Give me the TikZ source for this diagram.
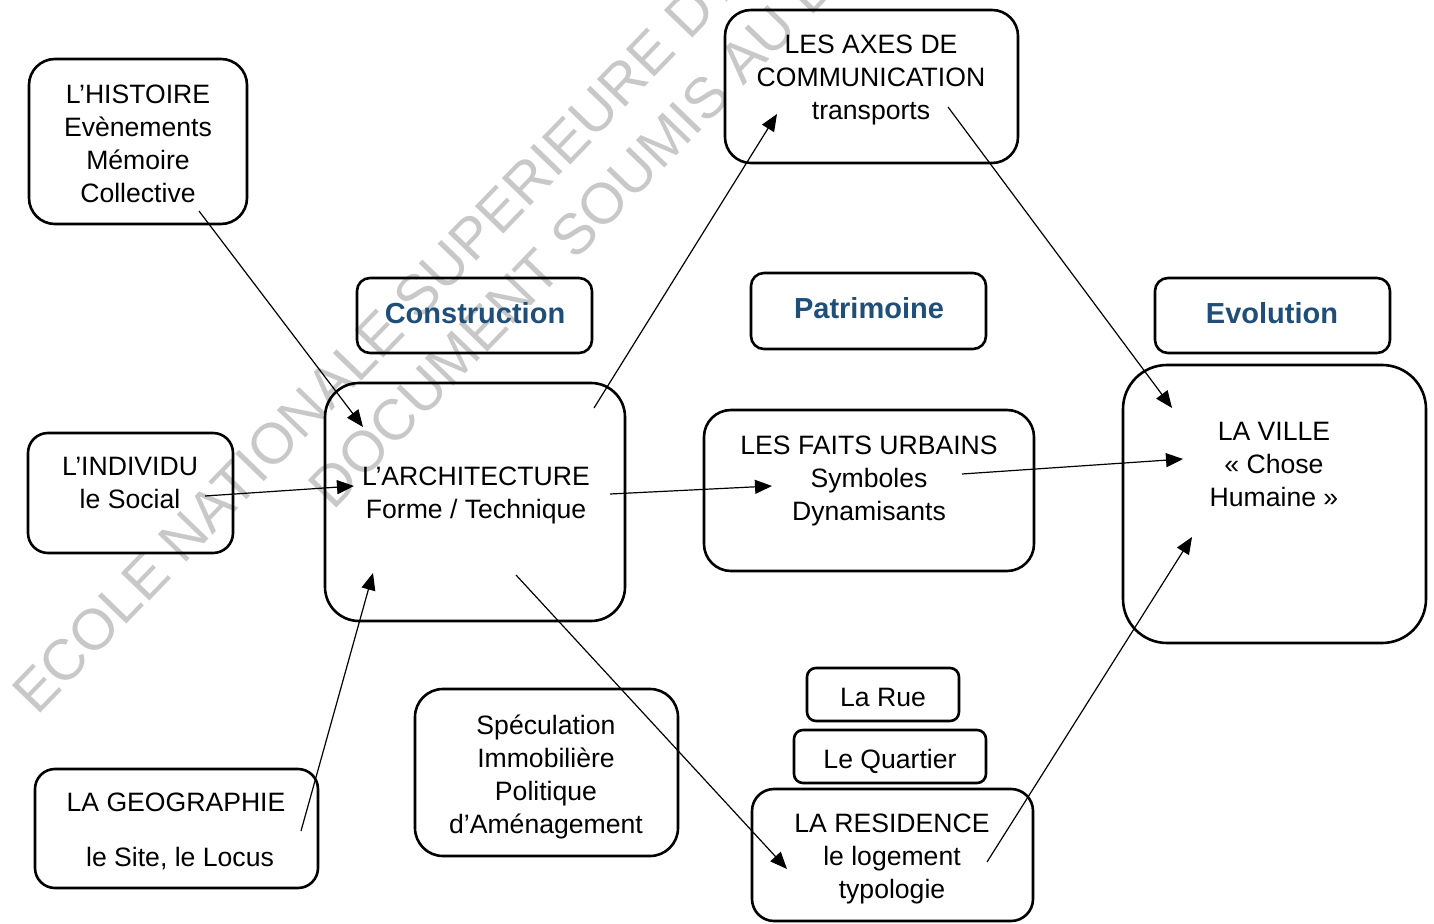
\documentclass[tikz,border=0pt]{standalone}
\usepackage{fontspec}
\setmainfont{Liberation Sans}
\usetikzlibrary{arrows.meta}
\definecolor{wmgray}{RGB}{200,200,200}
\definecolor{labblue}{RGB}{31,78,121}
\begin{document}
\begin{tikzpicture}[x=0.5pt,y=-0.5pt,
  box/.style={draw, line width=1.3pt, inner sep=0pt, outer sep=0pt},
  txt/.style={align=center, inner sep=0pt, font=\fontsize{13.3pt}{16.5pt}\selectfont},
  lab/.style={inner sep=0pt, text=labblue, font=\fontsize{14.5pt}{17pt}\selectfont\bfseries},
  link/.style={line width=0.6pt, -{Triangle[length=8.5pt,width=7pt]}},
  wm/.style={text=wmgray, inner sep=0pt, font=\fontsize{28.75pt}{34pt}\selectfont, rotate=46, anchor=base west}]

\useasboundingbox (0,0) rectangle (1434,924);

% watermark
\begin{scope}
  \clip (0,0) rectangle (1434,924);
  \node[wm] (wm1) at (37,717) {ECOLE NATIONALE SUPERIEURE D’A};
  \node[wm] (wm2) at (333,512) {DOCUMENT SOUMIS AU D};
\end{scope}

% boxes
\node[box, minimum width=109pt,   minimum height=82.5pt, rounded corners=13pt]  (hist)   at (138,141.5) {};
\node[box, minimum width=102.5pt, minimum height=60pt,   rounded corners=10pt]  (indiv)  at (130.5,493) {};
\node[box, minimum width=141.5pt, minimum height=59.5pt, rounded corners=10pt]  (geo)    at (176.5,828.5) {};
\node[box, minimum width=117.5pt, minimum height=37.5pt, rounded corners=6.5pt] (constr) at (474.5,315.5) {};
\node[box, minimum width=117.5pt, minimum height=38pt,   rounded corners=6.5pt] (patr)   at (868.5,311) {};
\node[box, minimum width=117.5pt, minimum height=37.5pt, rounded corners=6.5pt] (evol)   at (1272.5,315.5) {};
\node[box, minimum width=146.5pt, minimum height=76.5pt, rounded corners=13pt]  (axes)   at (871.5,86.5) {};
\node[box, minimum width=150pt,   minimum height=119pt,  rounded corners=17pt]  (arch)   at (475,502) {};
\node[box, minimum width=165pt,   minimum height=80.5pt, rounded corners=13.5pt] (faits) at (869,490.5) {};
\node[box, minimum width=151.5pt, minimum height=139pt,  rounded corners=22pt]  (ville)  at (1274.5,504) {};
\node[box, minimum width=131.5pt, minimum height=83.5pt, rounded corners=14pt]  (spec)   at (546.5,772.5) {};
\node[box, minimum width=76pt,    minimum height=26.5pt, rounded corners=4.5pt] (rue)    at (883,694.5) {};
\node[box, minimum width=96pt,    minimum height=26.5pt, rounded corners=4.5pt] (quart)  at (890,756.5) {};
\node[box, minimum width=140.5pt, minimum height=66pt,   rounded corners=11pt]  (resid)  at (892.5,855) {};

% texts
\node[txt] (histT)  at (138,146.5) {\strut L’HISTOIRE\\Evènements\\Mémoire\\Collective\strut};
\node[txt] (indivT) at (130,485.5) {\strut L’INDIVIDU\\le Social\strut};
\node[txt] (geoT1)  at (176,805) {\strut LA GEOGRAPHIE\strut};
\node[txt] (geoT2)  at (180,860) {\strut le Site, le Locus\strut};
\node[lab] (constrT) at (475,313) {Construction};
\node[lab] (patrT)   at (869,308) {Patrimoine};
\node[lab] (evolT)   at (1272,313) {Evolution};
\node[txt] (axesT)  at (871,80) {\strut LES AXES DE\\COMMUNICATION\\transports\strut};
\node[txt] (archT)  at (476,495.5) {\strut L’ARCHITECTURE\\Forme / Technique\strut};
\node[txt] (faitsT) at (869,481) {\strut LES FAITS URBAINS\\Symboles\\Dynamisants\strut};
\node[txt] (villeT) at (1274,467) {\strut LA VILLE\\« Chose\\Humaine »\strut};
\node[txt] (specT)  at (546,777) {\strut Spéculation\\Immobilière\\Politique\\d’Aménagement\strut};
\node[txt] (rueT)   at (883,700) {\strut La Rue\strut};
\node[txt] (quartT) at (890,762) {\strut Le Quartier\strut};
\node[txt] (residT) at (892,859) {\strut LA RESIDENCE\\le logement\\typologie\strut};

% connector ends
\coordinate (histOut)  at (199,211);
\coordinate (archInA)  at (363,427);
\coordinate (indivOut) at (205,496);
\coordinate (archInB)  at (354,486);
\coordinate (geoOut)   at (301,831);
\coordinate (archInC)  at (373,573);
\coordinate (archOutA) at (594,408);
\coordinate (axesIn)   at (777,114);
\coordinate (archOutB) at (610,494);
\coordinate (faitsIn)  at (772,486);
\coordinate (axesOut)  at (948,107);
\coordinate (villeInA) at (1172,408);
\coordinate (faitsOut) at (962,474);
\coordinate (villeInB) at (1183,459);
\coordinate (archOutC) at (516,575);
\coordinate (residIn)  at (787,869);
\coordinate (residOut) at (987,862);
\coordinate (villeInC) at (1192,537);

\draw[link] (histOut)  -- (archInA);
\draw[link] (indivOut) -- (archInB);
\draw[link] (geoOut)   -- (archInC);
\draw[link] (archOutA) -- (axesIn);
\draw[link] (archOutB) -- (faitsIn);
\draw[link] (axesOut)  -- (villeInA);
\draw[link] (faitsOut) -- (villeInB);
\draw[link] (archOutC) -- (residIn);
\draw[link] (residOut) -- (villeInC);
\end{tikzpicture}
\end{document}
